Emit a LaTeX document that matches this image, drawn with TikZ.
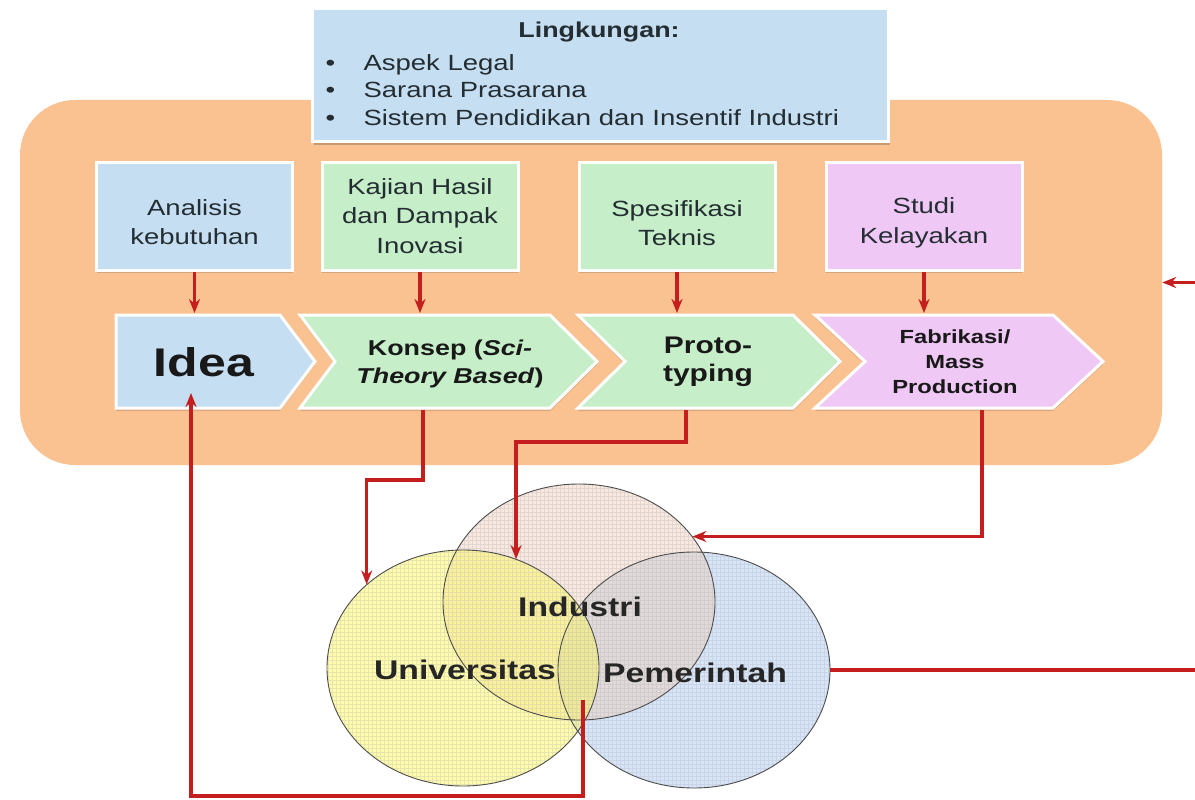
\documentclass[tikz,border=0pt]{standalone}
\usepackage{fontspec}
\setmainfont{Liberation Sans}[FakeStretch=1.25]
\usetikzlibrary{arrows.meta,shapes.geometric,shadows}
\definecolor{orangeBG}{RGB}{250,193,145}
\definecolor{blueF}{RGB}{198,222,242}
\definecolor{greenF}{RGB}{198,238,200}
\definecolor{pinkF}{RGB}{240,200,245}
\definecolor{redL}{RGB}{196,30,30}
\definecolor{univF}{RGB}{255,250,90}
\definecolor{indF}{RGB}{240,205,180}
\definecolor{pemF}{RGB}{175,205,240}
\definecolor{gridC}{RGB}{175,175,185}
\definecolor{txt}{RGB}{35,45,50}
\begin{document}
\begin{tikzpicture}[x=1pt,y=-1pt,
  conn/.style={draw=redL, line width=3.2pt, -{Stealth[length=14pt,width=11pt]}},
  tbox/.style={draw=white, line width=3pt, minimum width=196pt, minimum height=108pt,
    general shadow={shadow yshift=-3pt, fill=black, opacity=.15}},
  btext/.style={align=center, text=txt, font=\fontsize{22}{29.5}\selectfont},
  chev/.style={draw=white, line width=3pt, line join=miter,
    general shadow={shadow yshift=-3pt, fill=black, opacity=.12}},
  circ/.style={ellipse, minimum width=272pt, minimum height=236pt, inner sep=0pt},
  outl/.style={draw=black!70, line width=0.9pt},
  clabel/.style={font=\bfseries\fontsize{27}{30}\selectfont, text=black!85},
  ctext/.style={align=center, text=black!90},
]
\useasboundingbox (0,0) rectangle (1195,800);
\fill[white] (0,0) rectangle (1195,800);

% environment panel
\node[fill=orangeBG, rounded corners=55pt, minimum width=1142pt, minimum height=365pt, inner sep=0pt] (env) at (591,282.5) {};

% Lingkungan box
\node[fill=blueF, draw=white, line width=3pt, minimum width=576pt, minimum height=133pt,
  general shadow={shadow xshift=2pt, shadow yshift=-3pt, fill=black, opacity=.2}] (ling) at (600,75) {};
\node[font=\bfseries\fontsize{21.5}{26}\selectfont, text=txt] (lingT) at (599,32) {Lingkungan:};
\node[anchor=west, align=left, font=\fontsize{22}{27.5}\selectfont, text=txt] (lingL) at (322,90)
  {\makebox[38pt][l]{•}Aspek Legal\\\makebox[38pt][l]{•}Sarana Prasarana\\\makebox[38pt][l]{•}Sistem Pendidikan dan Insentif Industri};

% top boxes
\node[tbox, fill=blueF] (ana) at (194.5,216) {};
\node[tbox, fill=greenF] (kaj) at (420,216) {};
\node[tbox, fill=greenF] (spe) at (677,216) {};
\node[tbox, fill=pinkF] (stu) at (924,216) {};
\node[btext] (anaT) at (194.5,222) {Analisis\\kebutuhan};
\node[btext] (kajT) at (420,216) {Kajian Hasil\\dan Dampak\\Inovasi};
\node[btext] (speT) at (677,223) {Spesifikasi\\Teknis};
\node[btext] (stuT) at (924,223) {Studi\\Kelayakan};

% chevrons
\draw[chev, fill=blueF] (116,315) -- (280,315) -- (315,361.5) -- (280,408) -- (116,408) -- cycle;
\draw[chev, fill=greenF] (300,315) -- (550,315) -- (597,361.5) -- (550,408) -- (300,408) -- (335,361.5) -- cycle;
\draw[chev, fill=greenF] (578,315) -- (793,315) -- (840,361.5) -- (793,408) -- (578,408) -- (625,361.5) -- cycle;
\draw[chev, fill=pinkF] (815,315) -- (1053,315) -- (1103,361.5) -- (1053,408) -- (815,408) -- (865,361.5) -- cycle;
\coordinate (chevtop) at (0,313);
\coordinate (konB) at (423,410);
\coordinate (proB) at (686,410);
\coordinate (fabB) at (982,410);
\coordinate (ideaB) at (191,393);

\node[font=\bfseries\fontsize{40}{44}\selectfont, text=black!90] (idea) at (204,362) {Idea};
\node[ctext, font=\bfseries\fontsize{21.5}{28}\selectfont] (kon) at (450,364) {Konsep (\textit{Sci-}\\\textit{Theory Based})};
\node[ctext, font=\bfseries\fontsize{24}{28}\selectfont] (pro) at (708,362) {Proto-\\typing};
\node[ctext, font=\bfseries\fontsize{19}{25}\selectfont] (fab) at (955,362) {Fabrikasi/\\Mass\\Production};

% short arrows
\draw[conn] (ana.south) -- (ana.south |- chevtop);
\draw[conn] (kaj.south) -- (kaj.south |- chevtop);
\draw[conn] (spe.south) -- (spe.south |- chevtop);
\draw[conn] (stu.south) -- (stu.south |- chevtop);

% circles
\node[circ, fill=pemF, fill opacity=.5] (pem) at (694,670) {};
\node[circ, fill=indF, fill opacity=.45] (ind) at (579,602) {};
\node[circ, fill=univF, fill opacity=.5] (univ) at (463,668) {};
\begin{scope}
  \clip (pem.center) ellipse [x radius=136, y radius=118]
        (ind.center) ellipse [x radius=136, y radius=118]
        (univ.center) ellipse [x radius=136, y radius=118];
  \draw[gridC, draw opacity=.3, line width=.4pt, step=4pt] (320,480) grid (840,795);
\end{scope}
\draw[outl] (pem.center) ellipse [x radius=136, y radius=118];
\draw[outl] (ind.center) ellipse [x radius=136, y radius=118];
\draw[outl] (univ.center) ellipse [x radius=136, y radius=118];
\coordinate (mid) at (583,700);

\node[clabel] (indT) at (580,607) {Industri};
\node[clabel] (uniT) at (465,670) {Universitas};
\node[clabel] (pemT) at (695,673) {Pemerintah};

% connectors
\draw[conn] (konB) -- ++(0,70) -| (univ.north west);
\draw[conn] (proB) -- ++(0,32) -| (univ.64);
\draw[conn] (fabB) |- (ind.30);
\draw[conn] (pem.east) -- ++(380,0) |- (env.east);
\draw[conn] (mid) -- ++(0,96) -| (ideaB);
\end{tikzpicture}
\end{document}
